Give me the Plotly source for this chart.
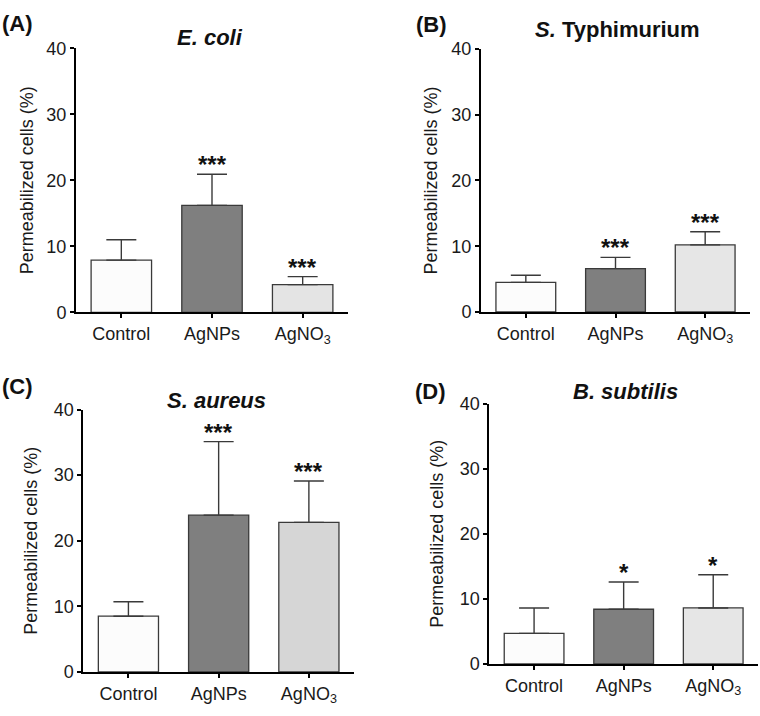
import plotly.graph_objects as go

W, H = 760, 716

categories = ["Control", "AgNPs", "AgNO<sub>3</sub>"]

ecoli_mean = [7.9, 16.2, 4.2]
ecoli_err = [3.1, 4.7, 1.2]
ecoli_sig = ["", "***", "***"]

styph_mean = [4.5, 6.6, 10.2]
styph_err = [1.1, 1.7, 2.0]
styph_sig = ["", "***", "***"]

saureus_mean = [8.5, 23.9, 22.8]
saureus_err = [2.2, 11.2, 6.3]
saureus_sig = ["", "***", "***"]

bsub_mean = [4.7, 8.4, 8.6]
bsub_err = [3.9, 4.2, 5.1]
bsub_sig = ["", "*", "*"]

y_ticks = [0, 10, 20, 30, 40]
y_title = "Permeabilized cells (%)"

panels = [
    dict(label="(A)", title="<b><i>E. coli</i></b>", mean=ecoli_mean, err=ecoli_err, sig=ecoli_sig,
         colors=["#fcfcfc", "#7f7f7f", "#e4e4e4"],
         box=(76, 348, 39.3, 311), title_xy=(210, 28), label_xy=(17, 14), ytitle_x=27),
    dict(label="(B)", title="<b><i>S.</i> Typhimurium</b>", mean=styph_mean, err=styph_err, sig=styph_sig,
         colors=["#fcfcfc", "#7f7f7f", "#e6e6e6"],
         box=(481, 750, 40, 310.7), title_xy=(617, 20), label_xy=(431, 15), ytitle_x=431),
    dict(label="(C)", title="<b><i>S. aureus</i></b>", mean=saureus_mean, err=saureus_err, sig=saureus_sig,
         colors=["#fcfcfc", "#7f7f7f", "#d6d6d6"],
         box=(83.3, 354, 411, 681), title_xy=(216, 402), label_xy=(17, 387), ytitle_x=31),
    dict(label="(D)", title="<b><i>B. subtilis</i></b>", mean=bsub_mean, err=bsub_err, sig=bsub_sig,
         colors=["#fcfcfc", "#7f7f7f", "#e6e6e6"],
         box=(489.3, 758, 405, 672.7), title_xy=(625, 392), label_xy=(430, 392), ytitle_x=437),
]

FONT = "Liberation Sans, Arial, sans-serif"
fig = go.Figure()
layout = dict(width=W, height=H, margin=dict(l=0, r=0, t=0, b=0),
              paper_bgcolor="white", plot_bgcolor="white", showlegend=False,
              font=dict(family=FONT, color="#1a1a1a"), annotations=[], bargap=1/3)


def px(x):
    return x / W


def py(y):
    return 1 - y / H


for i, p in enumerate(panels, start=1):
    xa = "x" if i == 1 else f"x{i}"
    ya = "y" if i == 1 else f"y{i}"
    fig.add_trace(go.Bar(
        x=categories, y=p["mean"], xaxis=xa, yaxis=ya,
        marker=dict(color=p["colors"], line=dict(color="#3a3a3a", width=1.3)),
        error_y=dict(type="data", array=p["err"], arrayminus=[0, 0, 0], symmetric=False,
                     color="#3a3a3a", thickness=1.4, width=15),
        hoverinfo="skip",
    ))
    x0, x1, y0, y1 = p["box"]
    axkey = "xaxis" if i == 1 else f"xaxis{i}"
    aykey = "yaxis" if i == 1 else f"yaxis{i}"
    layout[axkey] = dict(domain=[px(x0), px(x1)], anchor=ya, range=[-0.5, 2.5],
                         showline=True, linecolor="black", linewidth=2, ticks="outside",
                         ticklen=4, tickwidth=2, tickcolor="black", showgrid=False,
                         zeroline=False, tickfont=dict(size=18, family=FONT, color="#1a1a1a"),
                         fixedrange=True)
    layout[aykey] = dict(domain=[py(y1), py(y0)], anchor=xa, range=[0, 40],
                         tickvals=y_ticks, showline=True, linecolor="black", linewidth=2,
                         ticks="outside", ticklen=4, tickwidth=2, tickcolor="black",
                         showgrid=False, zeroline=False,
                         tickfont=dict(size=18, family=FONT, color="#1a1a1a"), fixedrange=True)
    ann = layout["annotations"]
    ann.append(dict(text=p["title"], x=px(p["title_xy"][0]), y=py(p["title_xy"][1]),
                    xref="paper", yref="paper", showarrow=False, xanchor="center", yanchor="middle",
                    font=dict(size=22, family=FONT, color="#111")))
    ann.append(dict(text="<b>" + p["label"] + "</b>", x=px(p["label_xy"][0]), y=py(p["label_xy"][1]),
                    xref="paper", yref="paper", showarrow=False, xanchor="center", yanchor="middle",
                    font=dict(size=22, family=FONT, color="#111")))
    ann.append(dict(text=y_title, x=px(p["ytitle_x"]), y=py((y0 + y1) / 2), textangle=-90,
                    xref="paper", yref="paper", showarrow=False, xanchor="center", yanchor="middle",
                    font=dict(size=18, family=FONT, color="#1a1a1a")))
    for c, m, e, s in zip(categories, p["mean"], p["err"], p["sig"]):
        if s:
            ann.append(dict(text="<b>" + s + "</b>", x=c, y=m + e, xref=xa, yref=ya,
                            showarrow=False, xanchor="center", yanchor="bottom", yshift=-6,
                            font=dict(size=24, family=FONT, color="#111")))

fig.update_layout(**layout)
fig.write_html(
    "out.html",
    config={"responsive": False, "displayModeBar": False},
    post_script="document.body.style.margin='0';document.body.style.overflow='hidden';",
)
